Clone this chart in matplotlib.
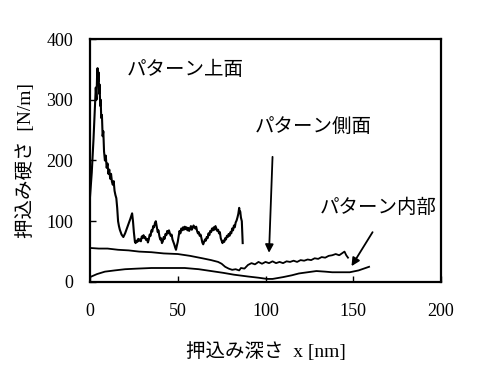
import matplotlib
matplotlib.use('Agg')
import matplotlib.pyplot as plt

plt.rcParams['font.family'] = ['Liberation Serif', 'Noto Sans CJK JP']

# パターン上面 (noisy curve)
top_x = [0, 1, 2, 2.8, 3.3, 3.7, 4.0, 4.3, 4.6, 4.9,
         5.2, 5.5, 5.8, 6.1, 6.4, 6.8, 7.2, 7.6, 8.0, 8.5,
         9.0, 9.5, 10, 10.5, 11, 11.5, 12, 12.5, 13, 13.5,
         14, 14.5, 15, 15.5, 16, 16.5, 17, 18, 19, 20,
         21, 22, 23, 24, 24.5,
         25, 25.6, 26, 26.5, 27, 27.5, 28, 28.4, 29, 29.5,
         30, 30.5, 31, 31.5, 32, 32.5, 33, 33.5, 34, 34.5,
         35, 35.5, 36, 36.5, 37, 37.5, 38, 38.6, 39, 39.5,
         40, 40.5, 41, 41.5, 42, 42.5, 43, 43.5, 44, 44.5,
         45, 45.5, 46, 46.5, 47, 47.5, 48, 48.5, 49, 49.5,
         50, 50.5, 51, 51.5, 52, 52.5, 53, 53.5, 54, 54.5,
         55, 55.5, 56, 56.5, 57, 57.5, 58, 58.5, 59, 59.5,
         60, 60.5, 61, 61.5, 62, 62.5, 63, 63.5, 64, 64.5,
         65, 65.5, 66, 66.5, 67, 67.5, 68, 68.5, 69, 69.5,
         70, 70.5, 71, 71.5, 72, 72.5, 73, 73.5, 74, 74.5,
         75, 75.5, 76, 76.5, 77, 77.5, 78, 78.5, 79, 79.5,
         80, 80.5, 81, 81.5, 82, 82.5, 83, 83.5, 84, 84.5,
         85, 85.3, 85.6, 86, 86.5, 87]
top_y = [140, 180, 235, 285, 320, 300, 335, 352, 330, 345,
         310, 325, 290, 300, 270, 275, 240, 248, 215, 200,
         208, 188, 195, 178, 185, 170, 178, 165, 160, 166,
         150, 143, 138, 122, 100, 92, 86, 78, 74, 80,
         88, 96, 104, 113, 100,
         82, 66, 64, 68, 66, 71, 68, 70, 67, 75,
         73, 77, 72, 74, 69, 71, 65, 70, 78, 76,
         85, 83, 92, 90, 97, 100, 92, 82, 85, 76,
         70, 72, 64, 67, 74, 71, 79, 77, 84, 80,
         85, 80, 76, 78, 70, 66, 62, 57, 53, 60,
         66, 75, 84, 80, 88, 85, 90, 86, 91, 87,
         90, 85, 89, 84, 88, 92, 86, 89, 93, 90,
         88, 91, 84, 80, 82, 76, 78, 72, 65, 62,
         66, 70, 68, 74, 72, 80, 77, 84, 82, 88,
         85, 90, 86, 92, 88, 84, 86, 80, 82, 72,
         68, 64, 68, 66, 72, 70, 76, 74, 79, 76,
         82, 80, 88, 85, 93, 90, 98, 101, 106, 112,
         122, 114, 116, 106, 100, 64]

# パターン側面
side_x = [0, 5, 10, 16, 22, 28, 35, 42, 50, 57,
          64, 69, 73, 75, 77, 79, 81, 83, 85, 86,
          88, 90, 92, 94, 96, 98, 100, 102, 104, 106,
          108, 110, 112, 114, 116, 118, 120, 122, 124, 126,
          128, 130, 132, 134, 136, 138, 140, 142, 144, 145,
          146, 147]
side_y = [56, 55, 55, 53, 52, 50, 49, 47, 46, 43,
          39, 36, 33, 30, 25, 22, 20, 21, 19, 23,
          22, 28, 31, 29, 33, 30, 33, 31, 34, 31,
          33, 31, 34, 33, 35, 33, 36, 35, 37, 36,
          39, 38, 41, 40, 43, 44, 46, 44, 48, 50,
          44, 40]

# パターン内部
bot_x = [0, 4, 8.5, 14, 20, 27, 35, 45, 54, 62,
         69, 76, 82, 90, 96, 101, 104, 110, 115, 119,
         124, 129, 134, 138, 143, 148, 153, 159]
bot_y = [8, 13, 17, 19, 21, 22, 23, 23, 23, 21,
         18, 15, 12, 9, 7, 5, 5, 8, 11, 14,
         16, 18, 17, 16, 16, 16, 19, 25]

fig = plt.figure(figsize=(4.82, 3.90), dpi=100)
ax = fig.add_axes([0.1867, 0.277, 0.7283, 0.623])

ax.plot(top_x, top_y, color='k', lw=1.5)
ax.plot(side_x, side_y, color='k', lw=1.3)
ax.plot(bot_x, bot_y, color='k', lw=1.3)

ax.set_xlim(0, 200)
ax.set_ylim(0, 400)
ax.set_xticks([0, 50, 100, 150, 200])
ax.set_yticks([0, 100, 200, 300, 400])
ax.tick_params(axis='x', direction='in', length=4, width=1, labelsize=13, pad=15,
               top=False)
ax.tick_params(axis='y', direction='in', length=4, width=1, labelsize=13, pad=12,
               right=False)
for s in ax.spines.values():
    s.set_linewidth(1.6)

ax.set_xlabel('押込み深さ  x [nm]', fontsize=14, labelpad=16)
ax.set_ylabel('押込み硬さ  [N/m]', fontsize=14, labelpad=8)

ax.text(54, 349, 'パターン上面', fontsize=14, ha='center', va='center')
ax.text(127, 255, 'パターン側面', fontsize=14, ha='center', va='center')
ax.text(164, 122, 'パターン内部', fontsize=14, ha='center', va='center')

arrow = dict(arrowstyle='-|>', color='k', lw=1.3, mutation_scale=12,
             shrinkA=0, shrinkB=0)
ax.annotate('', xy=(102, 48), xytext=(104, 206), arrowprops=arrow)
ax.annotate('', xy=(149, 26), xytext=(161, 82), arrowprops=arrow)

fig.savefig('out.png', dpi=100)
